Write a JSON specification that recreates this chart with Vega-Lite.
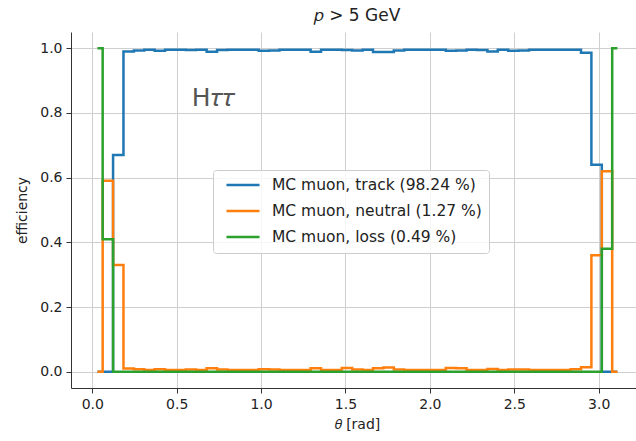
{
  "$schema": "https://vega.github.io/schema/vega-lite/v6.json",
  "width": 565,
  "height": 356,
  "autosize": {"type": "none"},
  "padding": {"left": 71, "top": 32, "right": 0, "bottom": 53},
  "title": {"text": "𝑝 > 5 GeV", "fontSize": 17, "font": "DejaVu Sans", "fontWeight": "normal", "color": "#222222", "offset": 7, "dx": 3.5},
  "config": {
    "view": {"stroke": null},
    "font": "DejaVu Sans",
    "axis": {
      "grid": true, "gridColor": "#cfcfcf", "gridWidth": 1,
      "domainColor": "#333333", "domainWidth": 1,
      "tickColor": "#333333", "tickSize": 5, "tickWidth": 1,
      "labelFontSize": 14, "labelColor": "#222222", "labelPadding": 4, "labelFont": "DejaVu Sans",
      "titleFontSize": 14, "titleFontWeight": "normal", "titleColor": "#222222", "titleFont": "DejaVu Sans"
    }
  },
  "datasets": {
    "eff": [
      {"t":0.0308,"e":0,"s":"track"},{"t":0.0924,"e":0,"s":"track"},{"t":0.1540,"e":0.67,"s":"track"},{"t":0.2156,"e":0.99,"s":"track"},{"t":0.2772,"e":0.993,"s":"track"},{"t":0.3388,"e":0.995,"s":"track"},{"t":0.4004,"e":0.992,"s":"track"},{"t":0.4620,"e":0.995,"s":"track"},{"t":0.5236,"e":0.995,"s":"track"},{"t":0.5852,"e":0.994,"s":"track"},{"t":0.6468,"e":0.995,"s":"track"},{"t":0.7084,"e":0.989,"s":"track"},{"t":0.7700,"e":0.994,"s":"track"},{"t":0.8316,"e":0.995,"s":"track"},{"t":0.8932,"e":0.995,"s":"track"},{"t":0.9548,"e":0.995,"s":"track"},{"t":1.0164,"e":0.992,"s":"track"},{"t":1.0780,"e":0.993,"s":"track"},{"t":1.1396,"e":0.995,"s":"track"},{"t":1.2012,"e":0.995,"s":"track"},{"t":1.2628,"e":0.995,"s":"track"},{"t":1.3244,"e":0.989,"s":"track"},{"t":1.3860,"e":0.995,"s":"track"},{"t":1.4476,"e":0.995,"s":"track"},{"t":1.5092,"e":0.994,"s":"track"},{"t":1.5708,"e":0.993,"s":"track"},{"t":1.6324,"e":0.995,"s":"track"},{"t":1.6940,"e":0.988,"s":"track"},{"t":1.7556,"e":0.988,"s":"track"},{"t":1.8172,"e":0.993,"s":"track"},{"t":1.8788,"e":0.995,"s":"track"},{"t":1.9404,"e":0.995,"s":"track"},{"t":2.0020,"e":0.995,"s":"track"},{"t":2.0636,"e":0.995,"s":"track"},{"t":2.1252,"e":0.992,"s":"track"},{"t":2.1868,"e":0.993,"s":"track"},{"t":2.2484,"e":0.995,"s":"track"},{"t":2.3100,"e":0.994,"s":"track"},{"t":2.3716,"e":0.990,"s":"track"},{"t":2.4332,"e":0.995,"s":"track"},{"t":2.4948,"e":0.992,"s":"track"},{"t":2.5564,"e":0.993,"s":"track"},{"t":2.6180,"e":0.995,"s":"track"},{"t":2.6796,"e":0.995,"s":"track"},{"t":2.7412,"e":0.995,"s":"track"},{"t":2.8028,"e":0.995,"s":"track"},{"t":2.8644,"e":0.995,"s":"track"},{"t":2.9260,"e":0.986,"s":"track"},{"t":2.9876,"e":0.64,"s":"track"},{"t":3.0492,"e":0,"s":"track"},{"t":3.1108,"e":0,"s":"track"},
      {"t":0.0308,"e":0,"s":"neutral"},{"t":0.0924,"e":0.59,"s":"neutral"},{"t":0.1540,"e":0.33,"s":"neutral"},{"t":0.2156,"e":0.01,"s":"neutral"},{"t":0.2772,"e":0.008,"s":"neutral"},{"t":0.3388,"e":0.006,"s":"neutral"},{"t":0.4004,"e":0.008,"s":"neutral"},{"t":0.4620,"e":0.006,"s":"neutral"},{"t":0.5236,"e":0.006,"s":"neutral"},{"t":0.5852,"e":0.007,"s":"neutral"},{"t":0.6468,"e":0.006,"s":"neutral"},{"t":0.7084,"e":0.011,"s":"neutral"},{"t":0.7700,"e":0.007,"s":"neutral"},{"t":0.8316,"e":0.006,"s":"neutral"},{"t":0.8932,"e":0.006,"s":"neutral"},{"t":0.9548,"e":0.006,"s":"neutral"},{"t":1.0164,"e":0.008,"s":"neutral"},{"t":1.0780,"e":0.007,"s":"neutral"},{"t":1.1396,"e":0.006,"s":"neutral"},{"t":1.2012,"e":0.006,"s":"neutral"},{"t":1.2628,"e":0.006,"s":"neutral"},{"t":1.3244,"e":0.011,"s":"neutral"},{"t":1.3860,"e":0.006,"s":"neutral"},{"t":1.4476,"e":0.006,"s":"neutral"},{"t":1.5092,"e":0.012,"s":"neutral"},{"t":1.5708,"e":0.007,"s":"neutral"},{"t":1.6324,"e":0.006,"s":"neutral"},{"t":1.6940,"e":0.011,"s":"neutral"},{"t":1.7556,"e":0.013,"s":"neutral"},{"t":1.8172,"e":0.007,"s":"neutral"},{"t":1.8788,"e":0.006,"s":"neutral"},{"t":1.9404,"e":0.006,"s":"neutral"},{"t":2.0020,"e":0.006,"s":"neutral"},{"t":2.0636,"e":0.006,"s":"neutral"},{"t":2.1252,"e":0.012,"s":"neutral"},{"t":2.1868,"e":0.011,"s":"neutral"},{"t":2.2484,"e":0.006,"s":"neutral"},{"t":2.3100,"e":0.006,"s":"neutral"},{"t":2.3716,"e":0.009,"s":"neutral"},{"t":2.4332,"e":0.006,"s":"neutral"},{"t":2.4948,"e":0.007,"s":"neutral"},{"t":2.5564,"e":0.007,"s":"neutral"},{"t":2.6180,"e":0.006,"s":"neutral"},{"t":2.6796,"e":0.006,"s":"neutral"},{"t":2.7412,"e":0.006,"s":"neutral"},{"t":2.8028,"e":0.006,"s":"neutral"},{"t":2.8644,"e":0.008,"s":"neutral"},{"t":2.9260,"e":0.014,"s":"neutral"},{"t":2.9876,"e":0.36,"s":"neutral"},{"t":3.0492,"e":0.62,"s":"neutral"},{"t":3.1108,"e":0,"s":"neutral"},
      {"t":0.0308,"e":1,"s":"loss"},{"t":0.0924,"e":0.41,"s":"loss"},{"t":0.1540,"e":0,"s":"loss"},{"t":0.2156,"e":0,"s":"loss"},{"t":0.2772,"e":0,"s":"loss"},{"t":0.3388,"e":0,"s":"loss"},{"t":0.4004,"e":0,"s":"loss"},{"t":0.4620,"e":0,"s":"loss"},{"t":0.5236,"e":0,"s":"loss"},{"t":0.5852,"e":0,"s":"loss"},{"t":0.6468,"e":0,"s":"loss"},{"t":0.7084,"e":0,"s":"loss"},{"t":0.7700,"e":0,"s":"loss"},{"t":0.8316,"e":0,"s":"loss"},{"t":0.8932,"e":0,"s":"loss"},{"t":0.9548,"e":0,"s":"loss"},{"t":1.0164,"e":0,"s":"loss"},{"t":1.0780,"e":0,"s":"loss"},{"t":1.1396,"e":0,"s":"loss"},{"t":1.2012,"e":0,"s":"loss"},{"t":1.2628,"e":0,"s":"loss"},{"t":1.3244,"e":0,"s":"loss"},{"t":1.3860,"e":0,"s":"loss"},{"t":1.4476,"e":0,"s":"loss"},{"t":1.5092,"e":0,"s":"loss"},{"t":1.5708,"e":0,"s":"loss"},{"t":1.6324,"e":0,"s":"loss"},{"t":1.6940,"e":0,"s":"loss"},{"t":1.7556,"e":0,"s":"loss"},{"t":1.8172,"e":0,"s":"loss"},{"t":1.8788,"e":0,"s":"loss"},{"t":1.9404,"e":0,"s":"loss"},{"t":2.0020,"e":0,"s":"loss"},{"t":2.0636,"e":0,"s":"loss"},{"t":2.1252,"e":0,"s":"loss"},{"t":2.1868,"e":0,"s":"loss"},{"t":2.2484,"e":0,"s":"loss"},{"t":2.3100,"e":0,"s":"loss"},{"t":2.3716,"e":0,"s":"loss"},{"t":2.4332,"e":0,"s":"loss"},{"t":2.4948,"e":0,"s":"loss"},{"t":2.5564,"e":0,"s":"loss"},{"t":2.6180,"e":0,"s":"loss"},{"t":2.6796,"e":0,"s":"loss"},{"t":2.7412,"e":0,"s":"loss"},{"t":2.8028,"e":0,"s":"loss"},{"t":2.8644,"e":0,"s":"loss"},{"t":2.9260,"e":0,"s":"loss"},{"t":2.9876,"e":0,"s":"loss"},{"t":3.0492,"e":0.38,"s":"loss"},{"t":3.1108,"e":1,"s":"loss"}
    ]
  },
  "data": {"name": "eff"},
  "encoding": {
    "x": {"field": "t", "type": "quantitative",
      "scale": {"domain": [-0.126, 3.221], "nice": false, "zero": false},
      "axis": {"values": [0, 0.5, 1, 1.5, 2, 2.5, 3], "format": ".1f", "title": "𝜃 [rad]", "titleX": 286, "titlePadding": 6}},
    "y": {"field": "e", "type": "quantitative",
      "scale": {"domain": [-0.05, 1.05], "nice": false, "zero": false},
      "axis": {"values": [0, 0.2, 0.4, 0.6, 0.8, 1.0], "format": ".1f", "title": "efficiency", "titlePadding": 10}}
  },
  "layer": [
    {
      "data": {"values": [{}]},
      "mark": {"type": "rule", "color": "#333333", "strokeWidth": 1},
      "encoding": {"x": null, "y": {"datum": 1.05}}
    },
    {
      "transform": [{"filter": "datum.s == 'track'"}],
      "mark": {"type": "line", "interpolate": "step", "strokeWidth": 2.5},
      "encoding": {"color": {"field": "s", "type": "nominal",
        "scale": {"domain": ["track", "neutral", "loss"], "range": ["#1f77b4", "#ff7f0e", "#2ca02c"]},
        "legend": {"title": null, "orient": "none", "legendX": 142, "legendY": 138,
          "symbolType": "stroke", "symbolSize": 1089, "symbolStrokeWidth": 2.5, "symbolOffset": 5,
          "clipHeight": 16,
          "labelFontSize": 15.5, "labelColor": "#222222", "labelOffset": 11, "labelLimit": 400,
          "labelExpr": "datum.label == 'track' ? 'MC muon, track (98.24 %)' : datum.label == 'neutral' ? 'MC muon, neutral (1.27 %)' : 'MC muon, loss (0.49 %)'",
          "fillColor": "rgba(255,255,255,0.8)", "strokeColor": "#cccccc", "cornerRadius": 3,
          "padding": 7, "rowPadding": 9}}}
    },
    {
      "transform": [{"filter": "datum.s == 'neutral'"}],
      "mark": {"type": "line", "interpolate": "step", "strokeWidth": 2.5},
      "encoding": {"color": {"field": "s", "type": "nominal"}}
    },
    {
      "transform": [{"filter": "datum.s == 'loss'"}],
      "mark": {"type": "line", "interpolate": "step", "strokeWidth": 2.5},
      "encoding": {"color": {"field": "s", "type": "nominal"}}
    },
    {
      "data": {"values": [{"x": 0.59, "y": 0.82, "label": "H𝜏𝜏"}]},
      "mark": {"type": "text", "align": "left", "baseline": "alphabetic", "fontSize": 25, "color": "#555555", "font": "DejaVu Sans"},
      "encoding": {"x": {"field": "x", "type": "quantitative"}, "y": {"field": "y", "type": "quantitative"}, "text": {"field": "label"}}
    }
  ]
}
